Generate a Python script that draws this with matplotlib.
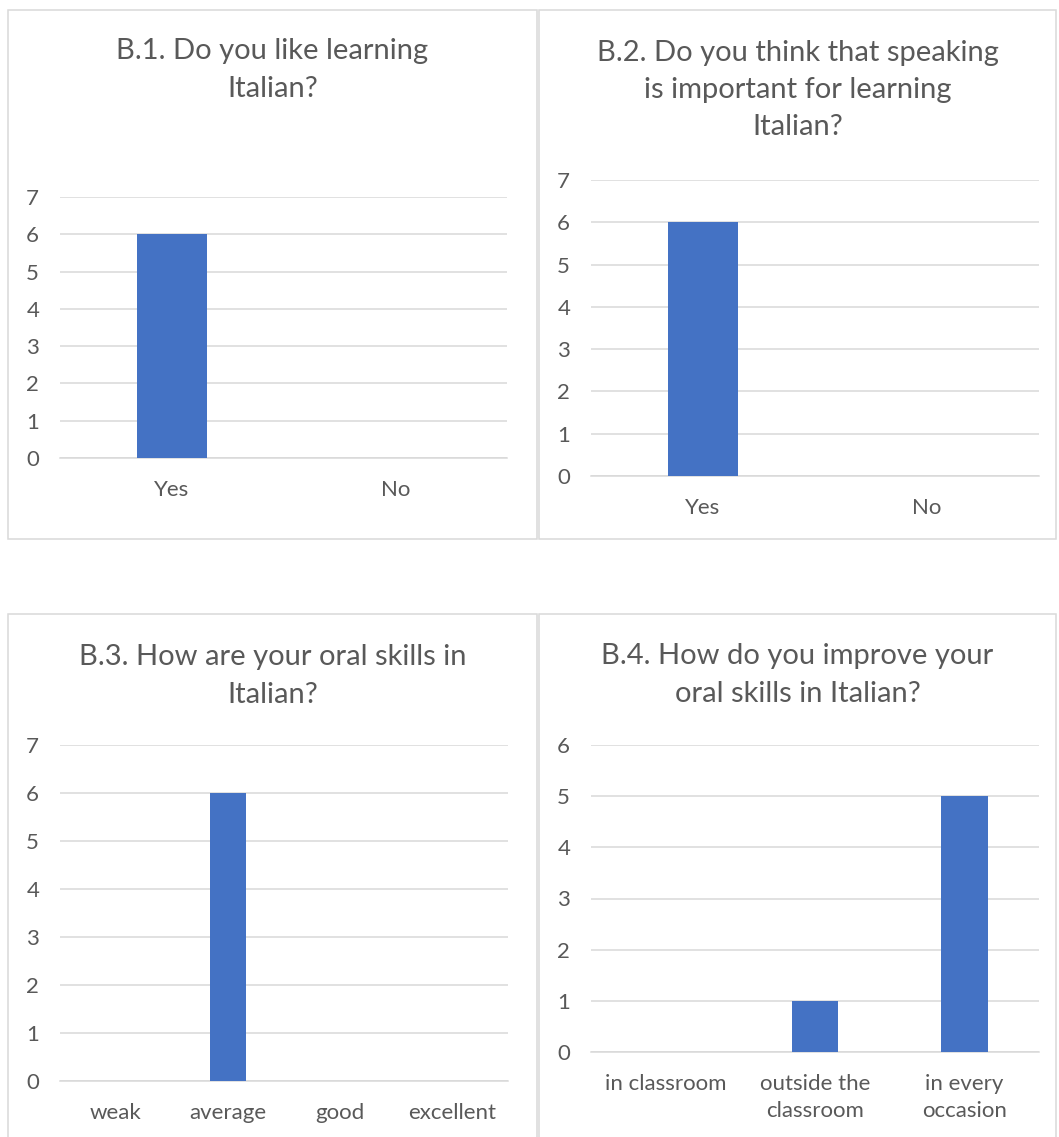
import matplotlib.pyplot as plt
from matplotlib.patches import Rectangle

plt.rcParams['font.family'] = ['Lato', 'DejaVu Sans']

# Survey answers, section B
b1_categories = ['Yes', 'No']
b1_counts = [6, 0]

b2_categories = ['Yes', 'No']
b2_counts = [6, 0]

b3_categories = ['weak', 'average', 'good', 'excellent']
b3_counts = [0, 6, 0, 0]

b4_categories = ['in classroom', 'outside the\nclassroom', 'in every\noccasion']
b4_counts = [0, 1, 5]

titles = [
    'B.1. Do you like learning\nItalian?',
    'B.2. Do you think that speaking\nis important for learning\nItalian?',
    'B.3. How are your oral skills in\nItalian?',
    'B.4. How do you improve your\noral skills in Italian?',
]

W, H = 1059, 1137
BAR = '#4472C4'
GRID = '#D9D9D9'
TXT = '#595959'

fig = plt.figure(figsize=(W / 100, H / 100), dpi=100)


def fx(px):
    return px / W


def fy(py):
    return 1 - py / H


# chart frames (left, top, right, bottom) in pixels
frames = [(8, 10, 537, 539), (539, 10, 1056, 539),
          (8, 614, 537, 1140), (539, 614, 1056, 1140)]
for l, t, r, b in frames:
    fig.patches.append(Rectangle((fx(l), fy(b)), fx(r - l), fy(t) - fy(b),
                                 transform=fig.transFigure, fill=False,
                                 edgecolor=GRID, linewidth=1.1))

# plot areas (left, top gridline, right, zero line) in pixels
areas = [(60, 197, 507, 458), (591, 180, 1039, 476),
         (60, 745, 508, 1081), (591, 745, 1039, 1052)]
title_y = [70, 90, 676, 675]
ymax = [7, 7, 7, 6]
data = [(b1_categories, b1_counts), (b2_categories, b2_counts),
        (b3_categories, b3_counts), (b4_categories, b4_counts)]

for i, ((cats, vals), (l, t, r, b)) in enumerate(zip(data, areas)):
    ax = fig.add_axes([fx(l), fy(b), fx(r - l), fy(t) - fy(b)])
    x = range(len(cats))
    ax.bar(x, vals, width=0.313, color=BAR, zorder=3)
    ax.set_xlim(-0.5, len(cats) - 0.5)
    ax.set_ylim(0, ymax[i])
    ax.set_yticks(range(ymax[i] + 1))
    ax.set_xticks(list(x))
    ax.set_xticklabels(cats, linespacing=1.45)
    ax.yaxis.grid(True, color=GRID, linewidth=1.1, zorder=0)
    for side in ['top', 'right', 'left']:
        ax.spines[side].set_visible(False)
    ax.spines['bottom'].set_color(GRID)
    ax.spines['bottom'].set_linewidth(1.1)
    ax.tick_params(axis='both', length=0, labelsize=16, colors=TXT)
    ax.tick_params(axis='y', pad=15)
    ax.tick_params(axis='x', pad=16)

    fl, ft, fr, fb = frames[i]
    fig.text(fx((fl + fr) / 2), fy(title_y[i]), titles[i], ha='center',
             va='center', fontsize=21, color=TXT, linespacing=1.53)

fig.savefig('out.png', dpi=100, facecolor='white')
